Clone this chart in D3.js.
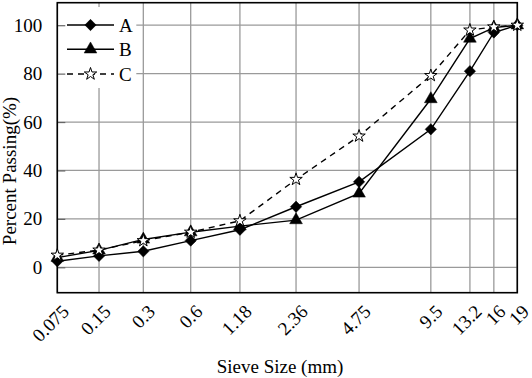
<!DOCTYPE html>
<html>
<head>
<meta charset="utf-8">
<script src="https://cdn.jsdelivr.net/npm/d3@7"></script>
<style>
  body { margin: 0; background: #fff; }
  svg text { font-family: "Liberation Serif", "Times New Roman", serif; }
</style>
</head>
<body>
<svg id="chart" width="532" height="378"></svg>
<script>
// sieve sizes (mm) and percent passing
var sieveSizes = [0.075, 0.15, 0.3, 0.6, 1.18, 2.36, 4.75, 9.5, 13.2, 16, 19];
var sieveLabels = ["0.075", "0.15", "0.3", "0.6", "1.18", "2.36", "4.75", "9.5", "13.2", "16", "19"];
var passA = [2.5, 4.7, 6.6, 11, 15.5, 25, 35.3, 57, 81, 97, 100];
var passB = [4, 7, 11.5, 14.5, 17, 19.5, 30.5, 69.5, 94.5, 99, 100];
var passC = [5, 7.1, 11, 14.5, 19.2, 36.3, 54.2, 79.2, 98, 99.3, 100];
var yTicks = [0, 20, 40, 60, 80, 100];
var seriesNames = ["A", "B", "C"];

// layout: where each sieve sits along the axis (fraction of plot width)
var sieveAxisPos = [0, 0.0907, 0.187, 0.290, 0.397, 0.519, 0.656, 0.812, 0.897, 0.949, 1];

var plotL = 57.3, plotR = 517.3, plotT = 2.7, plotB = 292.7;
var fs = 19;
var svg = d3.select("#chart");

var x = d3.scaleLinear()
  .domain(sieveSizes)
  .range(sieveAxisPos.map(function(f){ return plotL + f * (plotR - plotL); }));
var y = d3.scaleLinear().domain([-10.5, 109.3]).range([plotB, plotT]);

// grid
var grid = svg.append("g").attr("stroke", "#9a9a9a").attr("stroke-width", 1.3);
grid.selectAll("line.v").data(sieveSizes).enter().append("line")
  .attr("x1", function(d){ return x(d); }).attr("x2", function(d){ return x(d); })
  .attr("y1", plotT).attr("y2", plotB);
grid.selectAll("line.h").data(yTicks).enter().append("line")
  .attr("x1", plotL).attr("x2", plotR)
  .attr("y1", function(d){ return y(d); }).attr("y2", function(d){ return y(d); });

// legend box (white, hides grid)
var legend = svg.append("g");
legend.append("rect").attr("x", plotL).attr("y", 7).attr("width", 79).attr("height", 81).attr("fill", "#fff");

// y axis ticks (inward) and labels
var yAxis = d3.axisLeft(y).tickValues(yTicks).tickSize(-8).tickPadding(15);
var ya = svg.append("g").attr("transform", "translate(" + plotL + ",0)").call(yAxis)
  .attr("font-family", null).attr("font-size", null);
ya.select(".domain").remove();
ya.selectAll(".tick line").attr("stroke", "#666").attr("stroke-width", 1.2);
ya.selectAll(".tick text").attr("font-size", fs).attr("fill", "#000");

// x axis labels rotated
var xa = svg.append("g");
xa.selectAll("text").data(sieveSizes).enter().append("text")
  .attr("transform", function(d){ return "translate(" + (x(d) + 13) + "," + (plotB + 20) + ") rotate(-45)"; })
  .attr("text-anchor", "end")
  .attr("font-size", fs)
  .text(function(d, i){ return sieveLabels[i]; });

// plot border
svg.append("rect").attr("x", plotL).attr("y", plotT)
  .attr("width", plotR - plotL).attr("height", plotB - plotT)
  .attr("fill", "none").attr("stroke", "#000").attr("stroke-width", 1.6);

// titles
svg.append("text").attr("x", 280).attr("y", 373).attr("text-anchor", "middle")
  .attr("font-size", fs).text("Sieve Size (mm)");
svg.append("text").attr("transform", "translate(16,171) rotate(-90)")
  .attr("text-anchor", "middle").attr("font-size", fs).text("Percent Passing(%)");

// series
var series = [
  { name: "A", values: passA, symbol: d3.symbolSquare, size: 64, rot: 45, fill: "#000", dash: null },
  { name: "B", values: passB, symbol: d3.symbolTriangle, size: 70, rot: 0, fill: "#000", dash: null },
  { name: "C", values: passC, symbol: d3.symbolStar, size: 48, rot: 0, fill: "#fff", dash: "6,5" }
];

var line = d3.line()
  .x(function(d){ return x(d[0]); })
  .y(function(d){ return y(d[1]); });

series.forEach(function(s){
  var pts = sieveSizes.map(function(d, i){ return [d, s.values[i]]; });
  svg.append("path").datum(pts).attr("d", line)
    .attr("fill", "none").attr("stroke", "#000").attr("stroke-width", 1.4)
    .attr("stroke-dasharray", s.dash);
});
series.forEach(function(s){
  var pts = sieveSizes.map(function(d, i){ return [d, s.values[i]]; });
  svg.append("g").selectAll("path").data(pts).enter().append("path")
    .attr("d", d3.symbol().type(s.symbol).size(s.size))
    .attr("transform", function(d){ return "translate(" + x(d[0]) + "," + y(d[1]) + ") rotate(" + s.rot + ")"; })
    .attr("fill", s.fill).attr("stroke", "#000").attr("stroke-width", s.fill === "#fff" ? 1 : 0.5);
});

// legend entries
var legY = [25, 49.3, 74];
series.forEach(function(s, i){
  var g = legend.append("g").attr("transform", "translate(0," + legY[i] + ")");
  g.append("line").attr("x1", 67).attr("x2", 114).attr("y1", 0).attr("y2", 0)
    .attr("stroke", "#000").attr("stroke-width", 1.4).attr("stroke-dasharray", s.dash);
  g.append("path").attr("d", d3.symbol().type(s.symbol).size(s.size))
    .attr("transform", "translate(90.5,0) rotate(" + s.rot + ")")
    .attr("fill", s.fill).attr("stroke", "#000").attr("stroke-width", s.fill === "#fff" ? 1 : 0.5);
  g.append("text").attr("x", 119).attr("y", 0).attr("dy", "0.35em")
    .attr("font-size", fs).text(seriesNames[i]);
});
</script>
</body>
</html>
